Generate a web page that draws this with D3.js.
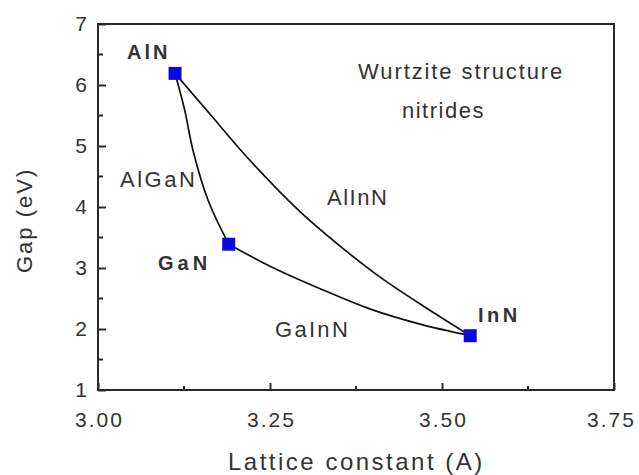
<!DOCTYPE html>
<html><head><meta charset="utf-8">
<script src="https://cdn.jsdelivr.net/npm/d3@7"></script>
<style>body{margin:0;background:#fff}svg{display:block}text{font-family:"Liberation Sans",Arial,sans-serif;fill:#333}</style>
</head><body><svg id="c" width="639" height="475"></svg>
<script>
const compounds = ["AlN","GaN","InN"];
const latticeA = [3.112, 3.190, 3.541];
const gapEV = [6.19, 3.39, 1.89];
const alganX = [3.112, 3.126, 3.138, 3.160, 3.190];
const alganY = [6.19, 5.59, 4.93, 4.11, 3.39];
const alinnX = [3.112, 3.163, 3.218, 3.294, 3.355, 3.410, 3.475, 3.541];
const alinnY = [6.19, 5.52, 4.80, 3.92, 3.33, 2.85, 2.36, 1.89];
const gainnX = [3.190, 3.250, 3.323, 3.395, 3.468, 3.541];
const gainnY = [3.39, 3.03, 2.66, 2.33, 2.08, 1.89];
const xTicks = [3.00, 3.25, 3.50, 3.75];
const yTicks = [1,2,3,4,5,6,7];

const svg = d3.select("#c");
const L=98, R=614, T=24, B=390;
const x = d3.scaleLinear().domain([3.0,3.75]).range([L,R]);
const y = d3.scaleLinear().domain([1,7]).range([B,T]);
const ink="#2a2a2a";

svg.append("rect").attr("x",L).attr("y",T).attr("width",R-L).attr("height",B-T)
  .attr("fill","none").attr("stroke",ink).attr("stroke-width",2);

const xa = svg.append("g").attr("transform",`translate(0,${B})`)
  .call(d3.axisBottom(x).tickValues(xTicks).tickSize(-7).tickPadding(22).tickFormat(d3.format(".2f")));
const ya = svg.append("g").attr("transform",`translate(${L},0)`)
  .call(d3.axisLeft(y).tickValues(yTicks).tickSize(-8).tickPadding(11).tickFormat(d3.format("d")));
[xa,ya].forEach(g=>{g.select(".domain").remove();g.selectAll("line").attr("stroke",ink).attr("stroke-width",2);
  g.selectAll("text").style("font-size","21px").style("font-family","'Liberation Sans',Arial,sans-serif").attr("fill","#333");});
xa.selectAll("text").style("letter-spacing","2px").attr("dx",d=>d===3.75?"-3px":"1px");
const xMinor=[3.125,3.375,3.625], yMinor=[1.5,2.5,3.5,4.5,5.5,6.5];
svg.selectAll(".xm").data(xMinor).join("line").attr("x1",d=>x(d)).attr("x2",d=>x(d)).attr("y1",B).attr("y2",B-4).attr("stroke",ink).attr("stroke-width",2);
svg.selectAll(".ym").data(yMinor).join("line").attr("y1",d=>y(d)).attr("y2",d=>y(d)).attr("x1",L).attr("x2",L+5).attr("stroke",ink).attr("stroke-width",2);

const line = d3.line().x(d=>x(d[0])).y(d=>y(d[1])).curve(d3.curveCatmullRom.alpha(0.5));
[[alganX,alganY],[alinnX,alinnY],[gainnX,gainnY]].forEach(([xs,ys])=>{
  svg.append("path").attr("d",line(xs.map((v,i)=>[v,ys[i]]))).attr("fill","none").attr("stroke","#111").attr("stroke-width",1.7);
});

svg.selectAll(".pt").data(compounds).join("rect")
  .attr("x",(d,i)=>x(latticeA[i])-6.5).attr("y",(d,i)=>y(gapEV[i])-6.5)
  .attr("width",13).attr("height",13).attr("fill","#0a0ae0");

const lab=(t,xx,yy,size,bold,ls,anchor)=>svg.append("text").attr("x",xx).attr("y",yy).attr("text-anchor",anchor||"start")
  .style("font-size",size+"px").style("font-weight",bold?"bold":"normal").style("letter-spacing",ls+"px").text(t);
lab("AlN",127,59,20,true,3);
lab("GaN",158,270,20,true,4);
lab("InN",478,322,20,true,3.5);
lab("AlGaN",120,187,22,false,2.5);
lab("AlInN",327,205,22,false,1.5);
lab("GaInN",275,337,22,false,2.3);
lab("Wurtzite structure",358,79,22,false,1.9);
lab("nitrides",402,118,22,false,1.5);

lab("Lattice constant (A)",228,470,24,false,2.5);
svg.append("text").attr("transform","translate(32,273) rotate(-90)").attr("text-anchor","start")
  .style("font-size","22px").style("letter-spacing","2px").text("Gap (eV)");
</script></body></html>
